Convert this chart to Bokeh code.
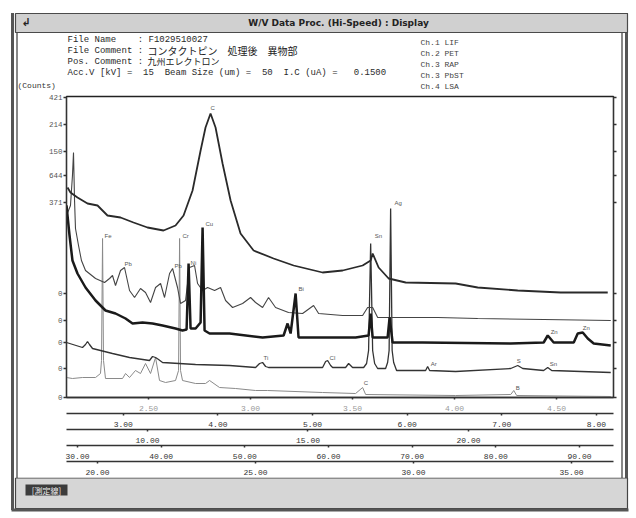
from bokeh.plotting import figure
from bokeh.layouts import column
from bokeh.models import (Range1d, LinearAxis, FixedTicker, PrintfTickFormatter)
from bokeh.core.properties import value
from bokeh.embed import file_html
from bokeh.resources import INLINE

# ---------------- data (x in the 2nd-row scale units, y in stacked display units) -------------
ch_a_x = [2.411, 2.442, 2.516, 2.622, 2.728, 2.833, 2.971, 3.108, 3.256, 3.425, 3.552, 3.637,
          3.732, 3.817, 3.869, 3.922, 3.975, 4.049, 4.134, 4.239, 4.377, 4.588, 4.800, 5.106,
          5.318, 5.529, 5.614, 5.635, 5.698, 5.804, 5.984, 6.512, 6.745, 7.168, 7.622, 8.119]
ch_a_y = [210, 205, 200, 194, 192, 182, 180, 175, 170, 167, 172, 182,
          207, 247, 270, 284, 270, 234, 197, 164, 147, 139, 132, 125,
          127, 132, 137, 144, 130, 119, 115, 114, 110, 107, 105, 105]

ch_b_x = [2.400, 2.442, 2.463, 2.474, 2.485, 2.495, 2.527, 2.558, 2.601, 2.707, 2.802, 2.855,
          2.886, 2.918, 2.971, 3.013, 3.066, 3.119, 3.182, 3.235, 3.288, 3.341, 3.394, 3.436,
          3.489, 3.521, 3.573, 3.605, 3.658, 3.700, 3.753, 3.785, 3.838, 3.891, 3.965, 4.028,
          4.081, 4.155, 4.261, 4.345, 4.398, 4.472, 4.535, 4.609, 4.746, 4.895, 5.011, 5.064,
          5.318, 5.529, 5.582, 5.635, 5.688, 5.857, 6.322, 6.745, 7.442, 8.151]
ch_b_y = [182, 192, 222, 245, 197, 169, 152, 137, 127, 119, 115, 119,
          122, 112, 127, 130, 107, 100, 109, 105, 95, 110, 114, 100,
          124, 129, 110, 94, 97, 130, 132, 114, 107, 110, 107, 110,
          97, 90, 94, 100, 95, 90, 100, 90, 85, 84, 92, 84,
          82, 82, 90, 90, 80, 80, 80, 79, 78, 77]

ch_c_x = [2.400, 2.432, 2.463, 2.516, 2.601, 2.707, 2.812, 2.918, 3.024, 3.098, 3.203, 3.309,
          3.415, 3.552, 3.626, 3.669, 3.690, 3.711, 3.764, 3.817, 3.838, 3.859, 3.912, 4.123,
          4.472, 4.694, 4.736, 4.768, 4.821, 4.852, 5.106, 5.455, 5.592, 5.614, 5.635, 5.793,
          5.814, 5.846, 6.163, 7.094, 7.442, 7.485, 7.548, 7.760, 7.802, 7.855, 7.908, 7.971, 8.151]
ch_c_y = [192, 162, 137, 124, 110, 97, 87, 84, 79, 74, 75, 74,
          72, 69, 67, 68, 134, 69, 69, 75, 170, 67, 64, 64,
          60, 62, 74, 64, 104, 60, 60, 60, 62, 84, 60, 60,
          80, 55, 55, 54, 55, 62, 55, 55, 64, 65, 59, 54, 52]

ch_d_x = [2.400, 2.569, 2.601, 2.622, 2.643, 2.675, 2.886, 3.066, 3.277, 3.309, 3.341, 3.373,
          3.415, 3.764, 4.123, 4.398, 4.440, 4.472, 4.504, 4.535, 5.106, 5.138, 5.159, 5.191,
          5.212, 5.349, 5.381, 5.423, 5.540, 5.571, 5.592, 5.614, 5.635, 5.656, 5.688, 5.772,
          5.793, 5.809, 5.825, 5.841, 5.857, 5.888, 6.195, 6.216, 6.237, 6.512, 7.094, 7.168,
          7.221, 7.442, 7.485, 7.527, 8.151]
ch_d_y = [55, 50, 53, 56, 53, 49, 44, 40, 37, 41, 40, 38,
          35, 33, 32, 30, 34, 35, 31, 30, 30, 36, 37, 32,
          30, 30, 34, 30, 30, 34, 47, 154, 47, 34, 29, 29,
          35, 47, 189, 47, 35, 27, 27, 31, 27, 26, 29, 32,
          29, 27, 30, 27, 25]

ch_e_x = [2.400, 2.463, 2.569, 2.707, 2.759, 2.770, 2.781, 2.791, 2.812, 2.992, 3.024, 3.066,
          3.129, 3.182, 3.235, 3.288, 3.341, 3.383, 3.447, 3.552, 3.584, 3.595, 3.605, 3.626,
          3.764, 3.869, 3.912, 4.017, 4.187, 4.398, 4.525, 5.106, 5.455, 5.529, 5.561, 6.512,
          7.094, 7.126, 7.157, 8.151]
ch_e_y = [20, 19, 20, 20, 24, 37, 159, 37, 19, 19, 24, 20,
          27, 24, 34, 24, 40, 17, 15, 17, 27, 159, 27, 17,
          14, 14, 17, 10, 9, 7, 7, 5, 4, 10, 3, 2,
          3, 7, 2, 1]

peak_x = [2.802, 3.626, 3.869, 3.711, 3.013, 3.541, 3.922, 5.656, 5.867, 4.852,
          7.516, 7.855, 4.482, 5.180, 6.248, 7.157, 7.506, 5.540, 7.147]
peak_y = [159, 159, 171, 132, 131, 129, 287, 159, 192, 106,
          63, 67, 37, 37, 31, 34, 31, 12, 7]
peak_txt = ["Fe", "Cr", "Cu", "Ni", "Pb", "Pb", "C", "Sn", "Ag", "Bi",
            "Zn", "Zn", "Ti", "Cl", "Ar", "S", "Sn", "C", "B"]

row1_ticks = [2.5, 3.0, 3.5, 4.0, 4.5]
row2_ticks = [3, 4, 5, 6, 7, 8]
row3_ticks = [10, 15, 20]
row4_ticks = [30, 40, 50, 60, 70, 80, 90]
row5_ticks = [20, 25, 30, 35]

ytick_pos = [300, 273, 246, 222, 195, 104, 77, 55, 29, 0]
ytick_text = ["421", "214", "150", "644", "371", "0", "0", "0", "0", "0"]

title_text = "W/V Data Proc. (Hi-Speed) : Display"
info_lines = ["File Name    : F1029510027", "File Comment :", "Pos. Comment :",
              "Acc.V [kV] =  15  Beam Size (um) =  50  I.C (uA) =   0.1500"]
jp_comments = ["コンタクトピン\u3000処理後\u3000異物部", "九州エレクトロン"]
channels = ["Ch.1 LIF", "Ch.2 PET", "Ch.3 RAP", "Ch.3 PbST", "Ch.4 LSA"]
button_text = "[測定線]"

W = 636
HDR_H, FTR_H = 91, 39
MONO = "Liberation Mono"
CJK = "Noto Sans CJK JP"


def no_align(f):
    if "frame_align" in f.properties():
        f.frame_align = False


def chrome_fig(h, y0):
    f = figure(width=W, height=h, output_backend="svg", toolbar_location=None,
               x_range=Range1d(0, W), y_range=Range1d(y0 + h, y0),
               x_axis_location=None, y_axis_location=None,
               min_border=0, min_border_left=0, min_border_right=0,
               min_border_top=0, min_border_bottom=0)
    f.outline_line_color = None
    f.background_fill_alpha = 0
    f.border_fill_alpha = 0
    for g in f.grid:
        g.visible = False
    no_align(f)
    return f


def txt(f, x, y, s, size="9px", font=MONO, color="#2a2a2a", align="left", style="normal"):
    s = s.replace(" ", "\u00a0")
    f.text(x=[x], y=[y], text=[s], text_font=value(font), text_font_size=size,
           text_color=color, text_align=align, text_baseline="middle", text_font_style=style)


# ---------------- header ----------------
hdr = chrome_fig(HDR_H, 0)
hdr.quad(left=[15], right=[627], top=[13], bottom=[32], fill_color="#d0d0d0",
         line_color="#4a4a4a", line_width=1.2)
txt(hdr, 338, 22.5, title_text, "9px", "DejaVu Sans", "#222", "center", "bold")
txt(hdr, 21, 22, "\u21b2", "11px", "DejaVu Sans", "#222", "left", "bold")
txt(hdr, 67, 39, info_lines[0])
txt(hdr, 67, 50, info_lines[1])
txt(hdr, 147, 50, jp_comments[0], "10px", CJK, "#222")
txt(hdr, 67, 61, info_lines[2])
txt(hdr, 147, 61, jp_comments[1], "9px", CJK, "#222")
txt(hdr, 67, 72, info_lines[3])
for i, ch in enumerate(channels):
    txt(hdr, 420, 42 + 11 * i, ch, "8px", MONO, "#444")
txt(hdr, 17, 85, "(Counts)", "8px", MONO, "#333")

# ---------------- main plot ----------------
X0, X1 = 2.40, 8.18
p = figure(frame_width=547, frame_height=301, output_backend="svg", toolbar_location=None,
           x_range=Range1d(X0, X1), y_range=Range1d(0, 301),
           x_axis_location=None, y_axis_location=None,
           min_border_left=66, min_border_right=23, min_border_top=5, min_border_bottom=80)
p.outline_line_color = "#222"
p.outline_line_width = 1.3
p.background_fill_color = "white"
p.border_fill_alpha = 0
for g in p.grid:
    g.visible = False
no_align(p)

p.extra_x_ranges = {"r1": Range1d(2.098, 4.779), "r3": Range1d(7.477, 24.517),
                    "r4": Range1d(28.685, 94.064), "r5": Range1d(19.019, 36.329)}


def style_axis(ax, color="#333", size="8px"):
    ax.axis_line_color = "#333"
    ax.axis_line_width = 1.3
    ax.major_tick_line_color = "#333"
    ax.major_tick_line_width = 1.5
    ax.major_tick_out = 2
    ax.major_tick_in = 0
    ax.minor_tick_line_color = None
    ax.major_label_text_font = MONO
    ax.major_label_text_font_size = size
    ax.major_label_text_color = color
    ax.major_label_standoff = 6


for name, ticks, col in [("r1", row1_ticks, "#9a9a9a"), ("default", row2_ticks, "#333"),
                         ("r3", row3_ticks, "#333"), ("r4", row4_ticks, "#333"),
                         ("r5", row5_ticks, "#333")]:
    ax = LinearAxis(x_range_name=name, ticker=FixedTicker(ticks=ticks),
                    formatter=PrintfTickFormatter(format="%.2f"))
    style_axis(ax, col)
    p.add_layout(ax, "below")

yax = LinearAxis(ticker=FixedTicker(ticks=ytick_pos),
                 major_label_overrides=dict(zip(ytick_pos, ytick_text)))
style_axis(yax, "#555", "7.5px")
yax.major_tick_out = 3
yax.major_label_standoff = 1
p.add_layout(yax, "left")

rax = LinearAxis(ticker=FixedTicker(ticks=ytick_pos))
style_axis(rax)
rax.major_label_text_color = None
rax.major_label_standoff = 0
rax.major_tick_out = 3
p.add_layout(rax, "right")

p.line(ch_e_x, ch_e_y, line_color="#8a8a8a", line_width=1.0)
p.line(ch_d_x, ch_d_y, line_color="#333333", line_width=1.3)
p.line(ch_b_x, ch_b_y, line_color="#444444", line_width=1.1)
p.line(ch_c_x, ch_c_y, line_color="#1a1a1a", line_width=2.5)
p.line(ch_a_x, ch_a_y, line_color="#2a2a2a", line_width=1.8)

p.text(x=peak_x, y=peak_y, text=peak_txt, text_font=value("Liberation Sans"),
       text_font_size="6px", text_color="#555", text_align="left", text_baseline="bottom")

# ---------------- footer ----------------
ftr = chrome_fig(FTR_H, 477)
ftr.quad(left=[15], right=[627], top=[477.5], bottom=[508], fill_color="#d6d6d6",
         line_color="#444", line_width=1.2)
ftr.quad(left=[11], right=[628], top=[508], bottom=[511], fill_color="#555", line_color=None)
ftr.quad(left=[25], right=[67], top=[484], bottom=[495], fill_color="#3c3c3c", line_color=None)
txt(ftr, 46, 489.5, button_text, "8px", CJK, "#eeeeee", "center")

border_css = ("linear-gradient(to right, rgba(0,0,0,0) 11px, #555 11px, #555 14px, "
              "rgba(0,0,0,0) 14px, rgba(0,0,0,0) 16px, #888 16px, #888 17.5px, "
              "rgba(0,0,0,0) 17.5px, rgba(0,0,0,0) 621px, #888 621px, #888 622.5px, "
              "rgba(0,0,0,0) 622.5px, rgba(0,0,0,0) 625px, #555 625px, #555 628px, "
              "rgba(0,0,0,0) 628px)")
layout = column(hdr, p, ftr, spacing=0,
                styles={"background-image": border_css, "background-repeat": "no-repeat",
                        "background-position": "0px 13px", "background-size": "100% 497px"})

open("out.html", "w").write(file_html(layout, INLINE))
